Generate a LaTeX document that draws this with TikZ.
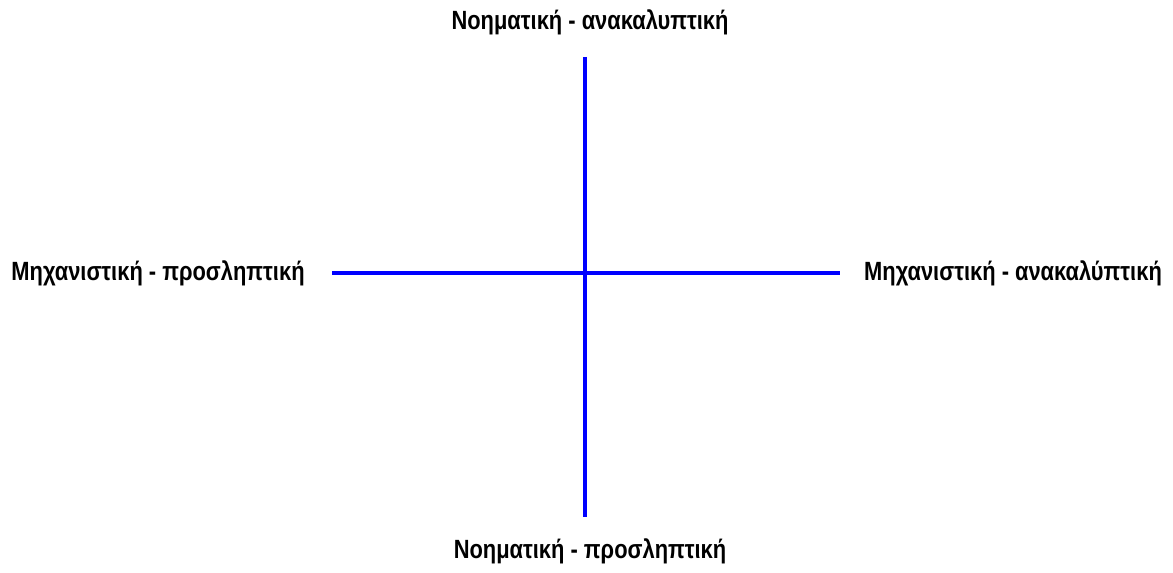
\documentclass[tikz,border=0pt]{standalone}
\usepackage{fontspec}
\setmainfont{Liberation Sans}
\usetikzlibrary{positioning}
\newcommand{\narrow}[1]{\scalebox{0.83}[1]{#1}}
\tikzset{
  axis/.style={line width=2.1pt, blue},
  pole/.style={font=\fontsize{15}{18}\selectfont\bfseries, inner sep=0pt}
}
\begin{document}
\begin{tikzpicture}[x=0.02cm, y=-0.02cm]
    \useasboundingbox (0,0) rectangle (1173,573);
    % Axes
    \coordinate (O) at (585,273);
    \coordinate (N) at (585,57);
    \coordinate (S) at (585,517);
    \coordinate (W) at (332,273);
    \coordinate (E) at (840,273);
    \draw[axis] (N) -- (S);
    \draw[axis] (W) -- (E);
    % Labels
    \node[pole] (top) at (590,22) {\narrow{Νοηματική - ανακαλυπτική}};
    \node[pole] (bottom) at (590,551) {\narrow{Νοηματική - προσληπτική}};
    \node[pole] (left) at (158,273) {\narrow{Μηχανιστική - προσληπτική}};
    \node[pole] (right) at (1013,273) {\narrow{Μηχανιστική - ανακαλύπτική}};
\end{tikzpicture}
\end{document}
